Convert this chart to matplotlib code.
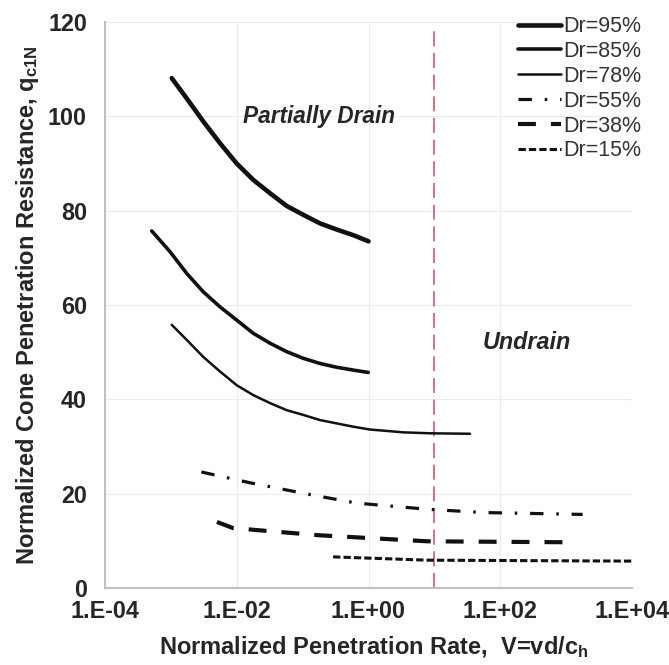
import matplotlib
matplotlib.use("Agg")
import numpy as np
import matplotlib.pyplot as plt
from matplotlib.ticker import FixedLocator, FixedFormatter, NullLocator

plt.rcParams['font.family'] = ['Liberation Sans', 'DejaVu Sans']
plt.rcParams['mathtext.fontset'] = 'custom'
plt.rcParams['mathtext.rm'] = 'Liberation Sans'
plt.rcParams['mathtext.bf'] = 'Liberation Sans:bold'
plt.rcParams['mathtext.it'] = 'Liberation Sans:italic'

# ---- data ----
dr95_x = [1.03e-3, 1.74e-3, 3.11e-3, 5.57e-3, 9.98e-3, 0.0179, 0.032, 0.0573,
          0.103, 0.184, 0.329, 0.589, 1.0]
dr95_y = [108.1, 103.8, 98.9, 94.3, 90.0, 86.5, 83.7, 81.0, 79.1, 77.3, 76.0, 74.8, 73.5]

dr85_x = [5.12e-4, 9.7e-4, 1.74e-3, 3.10e-3, 5.57e-3, 9.98e-3, 0.0178, 0.032,
          0.0573, 0.102, 0.184, 0.329, 0.587, 0.993]
dr85_y = [75.7, 71.3, 66.7, 62.8, 59.6, 56.8, 54.0, 51.9, 50.1, 48.7, 47.6, 46.8, 46.2, 45.7]

dr78_x = [1.03e-3, 1.74e-3, 3.10e-3, 5.57e-3, 9.98e-3, 0.0178, 0.032, 0.0573,
          0.102, 0.184, 0.329, 0.587, 1.05, 1.89, 3.37, 8.59, 34.8]
dr78_y = [55.8, 52.6, 49.0, 45.9, 43.0, 40.9, 39.2, 37.7, 36.7, 35.6, 34.9, 34.2,
          33.6, 33.3, 33.0, 32.8, 32.7]

dr55_x = [2.9e-3, 0.016, 0.13, 0.66, 7.8, 55, 1780]
dr55_y = [24.6, 22.3, 19.8, 18.0, 16.7, 16.0, 15.6]

dr38_x = [5e-3, 8.8e-3, 0.17, 7.8, 1000]
dr38_y = [14.0, 12.7, 11.2, 9.9, 9.7]

dr15_x = [0.29, 7.8, 1e4]
dr15_y = [6.6, 5.9, 5.7]

boundary_x = [10, 10]
boundary_y = [0, 118]

x_ticks = [1e-4, 1e-2, 1e0, 1e2, 1e4]
x_ticklabels = ['1.E-04', '1.E-02', '1.E+00', '1.E+02', '1.E+04']
y_ticks = [0, 20, 40, 60, 80, 100, 120]

labels = ['Dr=95%', 'Dr=85%', 'Dr=78%', 'Dr=55%', 'Dr=38%', 'Dr=15%']

# ---- figure ----
fig = plt.figure(figsize=(6.69, 6.65), dpi=100)
ax = fig.add_axes([105/669, 1 - 588/665, (632-105)/669, (588-22)/665])

ax.set_xscale('log')
ax.set_xlim(1e-4, 1e4)
ax.set_ylim(0, 120)

ax.xaxis.set_major_locator(FixedLocator(x_ticks))
ax.xaxis.set_major_formatter(FixedFormatter(x_ticklabels))
ax.xaxis.set_minor_locator(NullLocator())
ax.set_yticks(y_ticks)

ax.grid(True, color='#ececec', lw=0.8, zorder=0)
ax.set_axisbelow(True)
for s in ['top', 'right']:
    ax.spines[s].set_visible(False)
for s in ['left', 'bottom']:
    ax.spines[s].set_color('#bfbfbf')
    ax.spines[s].set_linewidth(1.5)
ax.tick_params(length=0, labelsize=16.8, colors='#262626')
ax.tick_params(axis='y', pad=13)
ax.tick_params(axis='x', pad=9)
for t in ax.get_xticklabels() + ax.get_yticklabels():
    t.set_fontweight('bold')

k = '#111111'
ax.plot(boundary_x, boundary_y, color='#c55a6e', lw=1.2, dashes=(9, 4), zorder=2)

l1, = ax.plot(dr95_x, dr95_y, color=k, lw=3.3, solid_capstyle='round',
              solid_joinstyle='round', zorder=3)
l2, = ax.plot(dr85_x, dr85_y, color=k, lw=2.6, solid_capstyle='round',
              solid_joinstyle='round', zorder=3)
l3, = ax.plot(dr78_x, dr78_y, color=k, lw=1.8, solid_capstyle='round',
              solid_joinstyle='round', zorder=3)
l4, = ax.plot(dr55_x, dr55_y, color=k, lw=2.3, dashes=(4.2, 4.0, 0.8, 4.0), zorder=3)
l5, = ax.plot(dr38_x, dr38_y, color=k, lw=3.0, dashes=(4.3, 3.6), zorder=3)
l6, = ax.plot(dr15_x, dr15_y, color=k, lw=2.2, dashes=(2.4, 1.0), zorder=3)

ax.text(0.18, 100, 'Partially Drain', fontsize=16.3, fontweight='bold', style='italic',
        ha='center', va='center', color='#262626')
ax.text(250, 52, 'Undrain', fontsize=16.8, fontweight='bold', style='italic',
        ha='center', va='center', color='#262626')

ax.set_xlabel(r'Normalized Penetration Rate,  V=vd/c$_{\mathbf{h}}$', fontsize=17,
              fontweight='bold', color='#262626')
ax.xaxis.set_label_coords(0.51, -0.082)
ax.set_ylabel(r'Normalized Cone Penetration Resistance, q$_{\mathbf{c1N}}$', fontsize=17,
              fontweight='bold', color='#262626')
ax.yaxis.set_label_coords(-0.122, 0.5)

leg = fig.legend([l1, l2, l3, l4, l5, l6], labels, loc='upper left',
                 bbox_to_anchor=(503/669, 1 - 1/665), frameon=False,
                 fontsize=15.5, handlelength=2.0, handletextpad=0.12,
                 labelspacing=0.18, borderpad=0.2)
for t in leg.get_texts():
    t.set_color('#333333')

fig.savefig('out.png', dpi=100)
